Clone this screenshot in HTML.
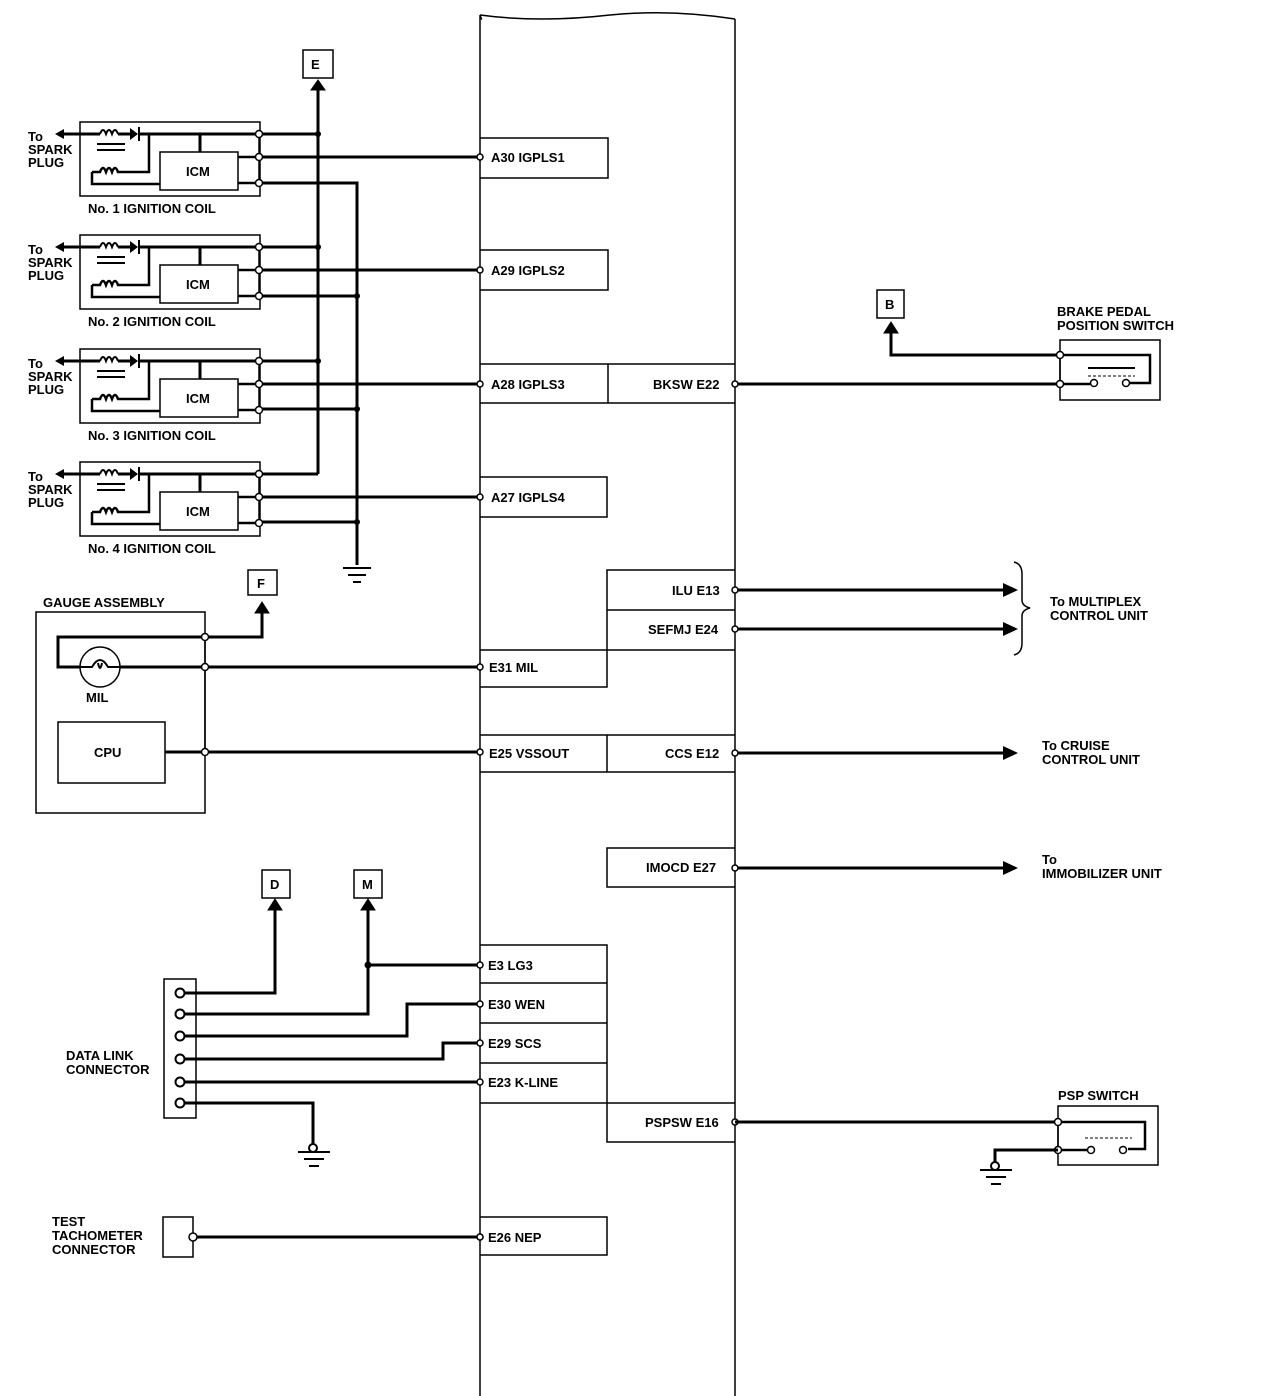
<!DOCTYPE html>
<html><head><meta charset="utf-8"><style>
html,body{margin:0;padding:0;background:#fff}
svg{display:block}
text{font-family:"Liberation Sans",sans-serif;font-weight:bold;font-size:13px;fill:#000}
</style></head><body>
<svg width="1280" height="1396" viewBox="0 0 1280 1396" xmlns="http://www.w3.org/2000/svg">
<defs>
<marker id="ar" viewBox="0 0 10 10" refX="9" refY="5" markerWidth="5" markerHeight="5" orient="auto"><path d="M0,0 L10,5 L0,10z" fill="#000"/></marker>
<g id="coil">
 <rect x="80" y="0" width="180" height="74" fill="none" stroke="#000" stroke-width="1.5"/>
 <line x1="60" y1="12" x2="100" y2="12" stroke="#000" stroke-width="3"/>
 <path d="M55,12 l9,-5 v10z" fill="#000"/>
 <path d="M100,12 q3,-8 6,0 q3,-8 6,0 q3,-8 6,0" fill="none" stroke="#000" stroke-width="2"/>
 <line x1="118" y1="12" x2="130" y2="12" stroke="#000" stroke-width="3"/>
 <path d="M130,6 L138,12 L130,18z" fill="#000"/><line x1="139" y1="5" x2="139" y2="19" stroke="#000" stroke-width="2"/>
 <line x1="139" y1="12" x2="259" y2="12" stroke="#000" stroke-width="3"/>
 <line x1="200" y1="12" x2="200" y2="30" stroke="#000" stroke-width="3"/>
 <line x1="97" y1="22" x2="125" y2="22" stroke="#000" stroke-width="2"/>
 <line x1="97" y1="28" x2="125" y2="28" stroke="#000" stroke-width="2"/>
 <path d="M92,50 H100 q3,-8 6,0 q3,-8 6,0 q3,-8 6,0 H149 V12" fill="none" stroke="#000" stroke-width="2.5"/>
 <path d="M92,50 V62 H160" fill="none" stroke="#000" stroke-width="2.5"/>
 <rect x="160" y="30" width="78" height="38" fill="none" stroke="#000" stroke-width="1.5"/>
 <text x="186" y="54">ICM</text>
 <line x1="238" y1="35" x2="259" y2="35" stroke="#000" stroke-width="2.5"/>
 <line x1="238" y1="61" x2="259" y2="61" stroke="#000" stroke-width="2.5"/>
 <line x1="259" y1="12" x2="259" y2="61" stroke="#000" stroke-width="1.5"/>
 <circle cx="259" cy="12" r="3.5" fill="#fff" stroke="#000" stroke-width="1.5"/>
 <circle cx="259" cy="35" r="3.5" fill="#fff" stroke="#000" stroke-width="1.5"/>
 <circle cx="259" cy="61" r="3.5" fill="#fff" stroke="#000" stroke-width="1.5"/>
 <text x="28" y="19" font-size="12">To</text><text x="28" y="32" font-size="12">SPARK</text><text x="28" y="45" font-size="12">PLUG</text>
</g>
</defs>
<g stroke="#000" fill="none">
<!-- ECM body -->
<path d="M480,1396 V15 q3,8 0,0" stroke-width="1.5"/>
<path d="M480,15 q60,8 130,0 q60,-6 125,4" stroke-width="1.5"/>
<line x1="735" y1="19" x2="735" y2="1396" stroke-width="1.5"/>
<g stroke-width="1.5">
<path d="M480,138 H608 V178 H480"/>
<path d="M480,250 H608 V290 H480"/>
<path d="M480,364 H735 M480,403 H735 M608,364 V403"/>
<path d="M480,477 H607 V517 H480"/>
<path d="M735,570 H607 V687 H480 M607,610 H735 M480,650 H735"/>
<path d="M480,735 H735 M480,772 H735 M607,735 V772"/>
<path d="M735,848 H607 V887 H735"/>
<path d="M480,945 H607 V1142 H735 M480,983 H607 M480,1023 H607 M480,1063 H607 M480,1103 H735"/>
<path d="M480,1217 H607 V1255 H480"/>
</g>
<!-- coil wires -->
<g stroke-width="3">
<line x1="318" y1="86" x2="318" y2="474"/>
<line x1="259" y1="134" x2="318" y2="134"/><line x1="259" y1="247" x2="318" y2="247"/><line x1="259" y1="361" x2="318" y2="361"/><line x1="259" y1="474" x2="318" y2="474"/>
<line x1="259" y1="157" x2="480" y2="157"/><line x1="259" y1="270" x2="480" y2="270"/><line x1="259" y1="384" x2="480" y2="384"/><line x1="259" y1="497" x2="480" y2="497"/>
<path d="M259,183 H357 V565"/>
<line x1="259" y1="296" x2="357" y2="296"/><line x1="259" y1="409" x2="357" y2="409"/><line x1="259" y1="522" x2="357" y2="522"/>
</g>
<path d="M311,90 L318,80 L325,90z" fill="#000"/>
<g stroke-width="2"><line x1="343" y1="568" x2="371" y2="568"/><line x1="348" y1="575" x2="366" y2="575"/><line x1="353" y1="582" x2="361" y2="582"/></g>
<rect x="303" y="50" width="30" height="28" stroke-width="1.5"/>
</g>
<g fill="#000"><circle cx="318" cy="134" r="3"/><circle cx="318" cy="247" r="3"/><circle cx="318" cy="361" r="3"/><circle cx="357" cy="296" r="3"/><circle cx="357" cy="409" r="3"/><circle cx="357" cy="522" r="3"/></g>
<text x="311" y="69" font-size="12">E</text>
<use href="#coil" transform="translate(0,122)"/>
<use href="#coil" transform="translate(0,235)"/>
<use href="#coil" transform="translate(0,349)"/>
<use href="#coil" transform="translate(0,462)"/>
<text x="88" y="213">No. 1 IGNITION COIL</text>
<text x="88" y="326">No. 2 IGNITION COIL</text>
<text x="88" y="440">No. 3 IGNITION COIL</text>
<text x="88" y="553">No. 4 IGNITION COIL</text>
<text x="491" y="162">A30 IGPLS1</text>
<text x="491" y="275">A29 IGPLS2</text>
<text x="491" y="389">A28 IGPLS3</text>
<text x="653" y="389">BKSW E22</text>
<text x="491" y="502">A27 IGPLS4</text>
<!-- brake switch -->
<g stroke="#000" fill="none">
<rect x="877" y="290" width="27" height="28" stroke-width="1.5"/>
<path d="M891,332 V355 H1060" stroke-width="3"/>
<path d="M884,333 L891,322 L898,333z" fill="#000"/>
<line x1="735" y1="384" x2="1060" y2="384" stroke-width="3"/>
<rect x="1060" y="340" width="100" height="60" stroke-width="1.5"/>
<line x1="1060" y1="355" x2="1060" y2="384" stroke-width="1.5"/>
<path d="M1060,355 H1150 V383 H1130 M1060,384 H1090" stroke-width="2.5"/>
<line x1="1088" y1="368" x2="1135" y2="368" stroke-width="2"/>
<line x1="1088" y1="376" x2="1135" y2="376" stroke-width="1" stroke-dasharray="3,2"/>
<circle cx="1094" cy="383" r="3.5" fill="#fff" stroke-width="1.5"/><circle cx="1126" cy="383" r="3.5" fill="#fff" stroke-width="1.5"/>
<circle cx="1060" cy="355" r="3.5" fill="#fff" stroke-width="1.5"/><circle cx="1060" cy="384" r="3.5" fill="#fff" stroke-width="1.5"/>
<circle cx="735" cy="384" r="3" fill="#fff" stroke-width="1.5"/>
</g>
<text x="885" y="309" font-size="11">B</text>
<text x="1057" y="316">BRAKE PEDAL</text><text x="1057" y="330">POSITION SWITCH</text>
<!-- gauge assembly -->
<g stroke="#000" fill="none">
<rect x="36" y="612" width="169" height="201" stroke-width="1.5"/>
<line x1="205" y1="637" x2="205" y2="752" stroke-width="1.5"/>
<path d="M205,637 H262 V612" stroke-width="3"/>
<path d="M255,613 L262,602 L269,613z" fill="#000"/>
<rect x="248" y="570" width="29" height="25" stroke-width="1.5"/>
<path d="M205,637 H58 V667 H480" stroke-width="3"/>
<circle cx="100" cy="667" r="20" fill="#fff" stroke-width="1.5"/>
<path d="M80,667 H92 q8,-14 16,0 H120 M98,663 q2,10 4,0" stroke-width="2"/>
<rect x="58" y="722" width="107" height="61" stroke-width="1.5"/>
<path d="M165,752 H480" stroke-width="3"/>
<circle cx="205" cy="637" r="3.5" fill="#fff" stroke-width="1.5"/><circle cx="205" cy="667" r="3.5" fill="#fff" stroke-width="1.5"/><circle cx="205" cy="752" r="3.5" fill="#fff" stroke-width="1.5"/>
</g>
<text x="257" y="588" font-size="11">F</text>
<text x="43" y="607">GAUGE ASSEMBLY</text>
<text x="86" y="702">MIL</text>
<text x="94" y="757">CPU</text>
<text x="489" y="672">E31 MIL</text>
<text x="489" y="758">E25 VSSOUT</text>
<text x="672" y="595">ILU E13</text>
<text x="648" y="634">SEFMJ E24</text>
<text x="665" y="758">CCS E12</text>
<text x="646" y="872">IMOCD E27</text>
<!-- right arrows -->
<g stroke="#000" stroke-width="3" fill="none">
<line x1="735" y1="590" x2="1005" y2="590"/>
<line x1="735" y1="629" x2="1005" y2="629"/>
<line x1="735" y1="753" x2="1005" y2="753"/>
<line x1="735" y1="868" x2="1005" y2="868"/>
<path d="M1014,562 q8,2 8,12 V600 q0,6 8,8 q-8,2 -8,8 V643 q0,10 -8,12" stroke-width="1.5"/>
</g>
<g fill="#000"><path d="M1003,583 L1018,590 L1003,597z"/><path d="M1003,622 L1018,629 L1003,636z"/><path d="M1003,746 L1018,753 L1003,760z"/><path d="M1003,861 L1018,868 L1003,875z"/></g>
<g fill="#fff" stroke="#000" stroke-width="1.5"><circle cx="735" cy="590" r="3"/><circle cx="735" cy="629" r="3"/><circle cx="735" cy="753" r="3"/><circle cx="735" cy="868" r="3"/><circle cx="480" cy="157" r="3"/><circle cx="480" cy="270" r="3"/><circle cx="480" cy="384" r="3"/><circle cx="480" cy="497" r="3"/><circle cx="480" cy="667" r="3"/><circle cx="480" cy="752" r="3"/></g>
<text x="1050" y="606">To MULTIPLEX</text><text x="1050" y="620">CONTROL UNIT</text>
<text x="1042" y="750">To CRUISE</text><text x="1042" y="764">CONTROL UNIT</text>
<text x="1042" y="864">To</text><text x="1042" y="878">IMMOBILIZER UNIT</text>
<!-- DLC -->
<g stroke="#000" fill="none">
<rect x="262" y="870" width="28" height="28" stroke-width="1.5"/>
<rect x="354" y="870" width="28" height="28" stroke-width="1.5"/>
<rect x="164" y="979" width="32" height="139" stroke-width="1.5"/>
<g stroke-width="3">
<path d="M180,993 H275 V908"/>
<path d="M180,1014 H368 V908"/>
<path d="M368,965 H480"/>
<path d="M180,1036 H407 V1004 H480"/>
<path d="M180,1059 H443 V1043 H480"/>
<path d="M180,1082 H480"/>
<path d="M180,1103 H313 V1145"/>
</g>
<path d="M268,910 L275,899 L282,910z" fill="#000"/>
<path d="M361,910 L368,899 L375,910z" fill="#000"/>
<circle cx="368" cy="965" r="3" fill="#000"/>
<g fill="#fff" stroke-width="2"><circle cx="180" cy="993" r="4.5"/><circle cx="180" cy="1014" r="4.5"/><circle cx="180" cy="1036" r="4.5"/><circle cx="180" cy="1059" r="4.5"/><circle cx="180" cy="1082" r="4.5"/><circle cx="180" cy="1103" r="4.5"/><circle cx="313" cy="1148" r="4"/></g>
<g stroke-width="2"><line x1="298" y1="1152" x2="330" y2="1152"/><line x1="304" y1="1159" x2="324" y2="1159"/><line x1="309" y1="1166" x2="319" y2="1166"/></g>
<g fill="#fff" stroke-width="1.5"><circle cx="480" cy="965" r="3"/><circle cx="480" cy="1004" r="3"/><circle cx="480" cy="1043" r="3"/><circle cx="480" cy="1082" r="3"/><circle cx="480" cy="1237" r="3"/><circle cx="735" cy="1122" r="3"/></g>
</g>
<text x="270" y="889" font-size="12">D</text>
<text x="362" y="889" font-size="12">M</text>
<text x="66" y="1060">DATA LINK</text><text x="66" y="1074">CONNECTOR</text>
<text x="488" y="970">E3 LG3</text>
<text x="488" y="1009">E30 WEN</text>
<text x="488" y="1048">E29 SCS</text>
<text x="488" y="1087">E23 K-LINE</text>
<text x="645" y="1127">PSPSW E16</text>
<!-- PSP switch -->
<g stroke="#000" fill="none">
<line x1="735" y1="1122" x2="1058" y2="1122" stroke-width="3"/>
<rect x="1058" y="1106" width="100" height="59" stroke-width="1.5"/>
<line x1="1058" y1="1122" x2="1058" y2="1150" stroke-width="1.5"/>
<path d="M1058,1122 H1145 V1149 H1128 M1058,1150 H1090" stroke-width="2.5"/>
<line x1="1085" y1="1138" x2="1132" y2="1138" stroke-width="1" stroke-dasharray="3,2"/>
<circle cx="1091" cy="1150" r="3.5" fill="#fff" stroke-width="1.5"/><circle cx="1123" cy="1150" r="3.5" fill="#fff" stroke-width="1.5"/>
<circle cx="1058" cy="1122" r="3.5" fill="#fff" stroke-width="1.5"/><circle cx="1058" cy="1150" r="3.5" fill="#fff" stroke-width="1.5"/>
<path d="M1058,1150 H995 V1166" stroke-width="3"/>
<circle cx="995" cy="1166" r="4" fill="#fff" stroke-width="2"/>
<g stroke-width="2"><line x1="980" y1="1170" x2="1012" y2="1170"/><line x1="986" y1="1177" x2="1006" y2="1177"/><line x1="991" y1="1184" x2="1001" y2="1184"/></g>
</g>
<text x="1058" y="1100">PSP SWITCH</text>
<!-- tach -->
<g stroke="#000" fill="none">
<rect x="163" y="1217" width="30" height="40" stroke-width="1.5"/>
<line x1="193" y1="1237" x2="480" y2="1237" stroke-width="3"/>
<circle cx="193" cy="1237" r="4" fill="#fff" stroke-width="1.5"/>
<circle cx="480" cy="1237" r="3" fill="#fff" stroke-width="1.5"/>
</g>
<text x="52" y="1226" font-size="12">TEST</text><text x="52" y="1240" font-size="12">TACHOMETER</text><text x="52" y="1254" font-size="12">CONNECTOR</text>
<text x="488" y="1242">E26 NEP</text>
</svg>
</body></html>
